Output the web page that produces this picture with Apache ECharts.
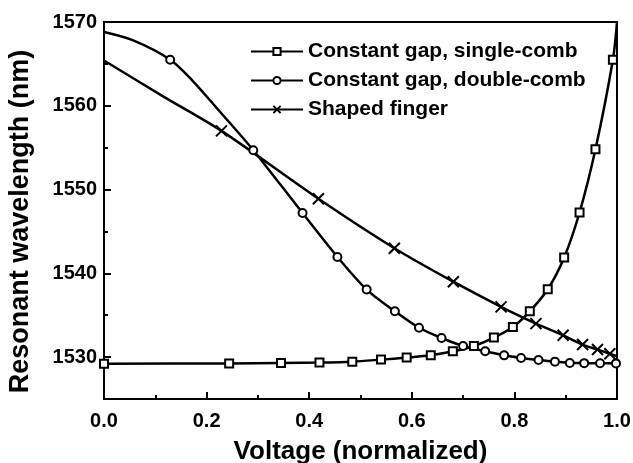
<!DOCTYPE html>
<html>
<head>
<meta charset="utf-8">
<script src="https://cdn.jsdelivr.net/npm/echarts@6/dist/echarts.min.js"></script>
<style>
html,body{margin:0;padding:0;background:#fff;}
#c{width:633px;height:463px;}
</style>
</head>
<body>
<div id="c"></div>
<script>
// ---- data ----
var seriesNames = ['Constant gap, single-comb', 'Constant gap, double-comb', 'Shaped finger'];

// single-comb (squares)
var singleX = [0, 0.244, 0.345, 0.420, 0.484, 0.540, 0.590, 0.637, 0.680, 0.721, 0.760, 0.797, 0.830, 0.865, 0.897, 0.927, 0.958, 0.992];
var singleY = [1529.22, 1529.25, 1529.3, 1529.35, 1529.46, 1529.70, 1529.94, 1530.21, 1530.69, 1531.33, 1532.33, 1533.6, 1535.47, 1538.1, 1541.9, 1547.26, 1554.8, 1565.5];
var singleLineX = [1.0];
var singleLineY = [1570.0];

// double-comb (circles)
var doubleX = [0.129, 0.291, 0.387, 0.455, 0.512, 0.567, 0.614, 0.658, 0.700, 0.743, 0.780, 0.813, 0.847, 0.879, 0.908, 0.936, 0.967, 0.998];
var doubleY = [1565.5, 1554.7, 1547.2, 1541.96, 1538.06, 1535.47, 1533.5, 1532.28, 1531.33, 1530.69, 1530.21, 1529.9, 1529.65, 1529.46, 1529.3, 1529.28, 1529.27, 1529.25];
var doubleLineX = [0, 0.057, 0.171, 0.223];
var doubleLineY = [1568.8, 1567.8, 1563.1, 1559.5];

// shaped finger (crosses)
var shapedX = [0.229, 0.418, 0.566, 0.681, 0.774, 0.842, 0.895, 0.933, 0.962, 0.986];
var shapedY = [1557.0, 1548.9, 1543.0, 1539.0, 1536.0, 1534.0, 1532.6, 1531.5, 1530.9, 1530.4];
var shapedLineX = [0, 0.116, 1.0];
var shapedLineY = [1565.4, 1561.1, 1530.1];

var xTicks = [0, 0.2, 0.4, 0.6, 0.8, 1.0];
var yTicks = [1530, 1540, 1550, 1560, 1570];
var yMinorTicks = [1535, 1545, 1555, 1565];

function build(mx, my, lx, ly) {
  var pts = [];
  for (var i = 0; i < mx.length; i++) pts.push({ value: [mx[i], my[i]] });
  for (var j = 0; j < lx.length; j++) pts.push({ value: [lx[j], ly[j]], symbol: 'none' });
  pts.sort(function (a, b) { return a.value[0] - b.value[0]; });
  return pts;
}

var FONT = 'Liberation Sans, Arial, sans-serif';
var crossPath = 'path://M0,0L10,10M10,0L0,10';

var chart = echarts.init(document.getElementById('c'), null, { renderer: 'canvas' });
chart.setOption({
  animation: false,
  backgroundColor: '#fff',
  grid: { left: 104, right: 16, top: 22, bottom: 64, show: true, borderColor: '#000', borderWidth: 2,
    backgroundColor: 'transparent', containLabel: false, outerBoundsMode: 'none' },
  legend: {
    orient: 'vertical', left: 245, top: 36,
    itemWidth: 52, itemHeight: 9, itemGap: 8,
    textStyle: { fontFamily: FONT, fontWeight: 'bold', fontSize: 21, color: '#000' },
    data: seriesNames
  },
  xAxis: {
    type: 'value', min: 0, max: 1, interval: 0.2,
    name: 'Voltage (normalized)', nameLocation: 'middle', nameGap: 40,
    nameTextStyle: { fontFamily: FONT, fontWeight: 'bold', fontSize: 26, color: '#000' },
    axisLine: { lineStyle: { color: '#000', width: 2 } },
    axisTick: { inside: true, length: 7, lineStyle: { color: '#000', width: 2 } },
    minorTick: { show: true, splitNumber: 2, length: 4, lineStyle: { color: '#000', width: 2 } },
    splitLine: { show: false },
    axisLabel: { customValues: xTicks, margin: 12, fontFamily: FONT, fontWeight: 'bold', fontSize: 20, color: '#000',
      formatter: function (v) { return v.toFixed(1); } }
  },
  yAxis: [{
    type: 'value', min: 1525, max: 1570,
    name: 'Resonant wavelength (nm)', nameLocation: 'middle', nameGap: 70,
    nameTextStyle: { fontFamily: FONT, fontWeight: 'bold', fontSize: 27, color: '#000', padding: [0, 22, 0, 0] },
    axisLine: { lineStyle: { color: '#000', width: 2 } },
    axisTick: { inside: true, length: 7, customValues: yTicks, lineStyle: { color: '#000', width: 2 } },
    splitLine: { show: false },
    axisLabel: { customValues: yTicks, margin: 7, fontFamily: FONT, fontWeight: 'bold', fontSize: 20, color: '#000',
      formatter: function (v) { return String(v); } }
  }, {
    type: 'value', min: 1525, max: 1570, position: 'left',
    axisLine: { show: false },
    axisTick: { inside: true, length: 4, customValues: yMinorTicks, lineStyle: { color: '#000', width: 2 } },
    axisLabel: { show: false },
    splitLine: { show: false }
  }],
  series: [{
    name: seriesNames[0], type: 'line', smooth: 0.3, clip: true,
    data: build(singleX, singleY, singleLineX, singleLineY),
    symbol: 'emptyRect', symbolSize: 8,
    lineStyle: { color: '#000', width: 2.5 },
    itemStyle: { color: '#000', borderColor: '#000', borderWidth: 2 }
  }, {
    name: seriesNames[1], type: 'line', smooth: 0.3, clip: true,
    data: build(doubleX, doubleY, doubleLineX, doubleLineY),
    symbol: 'emptyCircle', symbolSize: 8,
    lineStyle: { color: '#000', width: 2.5 },
    itemStyle: { color: '#000', borderColor: '#000', borderWidth: 2 }
  }, {
    name: seriesNames[2], type: 'line', smooth: 0.3, clip: true,
    data: build(shapedX, shapedY, shapedLineX, shapedLineY),
    symbol: crossPath, symbolSize: 11,
    lineStyle: { color: '#000', width: 2.5 },
    itemStyle: { color: '#000', borderColor: '#000', borderWidth: 2 }
  }]
});
</script>
</body>
</html>
